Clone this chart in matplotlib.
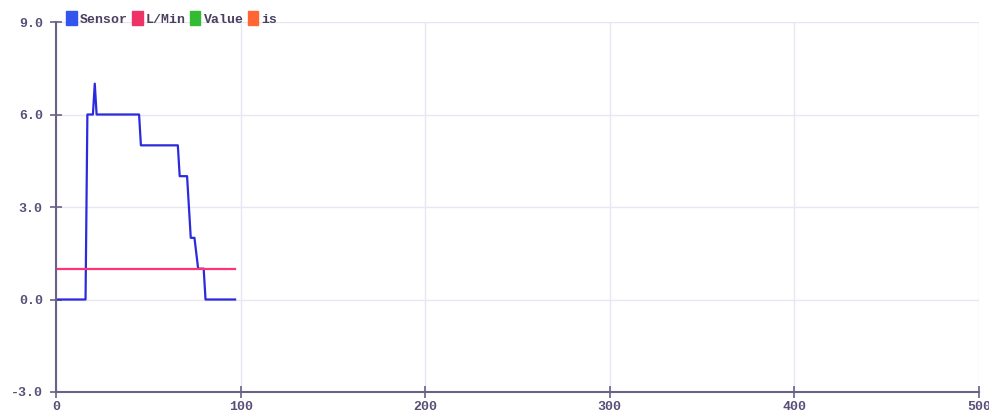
import matplotlib
matplotlib.use('Agg')
import matplotlib.pyplot as plt
from matplotlib.patches import Patch

# Sensor readings, one sample per step
sensor = [0]*17 + [6, 6, 6, 6, 7] + [6]*24 + [5]*21 + [4]*5 + [3, 2, 2, 2, 1.5] + [1]*4 + [0]*17
steps = list(range(len(sensor)))
limit = [1]*len(sensor)   # L/Min

legend_names = ['Sensor', 'L/Min', 'Value', 'is']
legend_colors = ['#3355ee', '#ee3366', '#33bb33', '#ff6633']

x_ticks = [0, 100, 200, 300, 400, 500]
y_ticks = [-3.0, 0.0, 3.0, 6.0, 9.0]

axis_col = '#6a6088'
text_col = '#5a4f78'
grid_col = '#e8e6f2'
font = {'family': 'Liberation Mono', 'weight': 'bold', 'size': 9.5}

fig = plt.figure(figsize=(9.89, 4.19), dpi=100)
ax = fig.add_axes([56/989, 27/419, 923/989, 370/419])

ax.plot(steps, sensor, color='#2b2bdd', lw=1.6)
ax.plot(steps, limit, color='#ff3377', lw=1.6)

ax.set_xlim(0, 500)
ax.set_ylim(-3, 9)
ax.set_xticks(x_ticks)
ax.set_yticks(y_ticks)
ax.set_xticklabels([str(t) for t in x_ticks], fontdict=font, color=text_col)
ax.set_yticklabels(['%.1f' % t for t in y_ticks], fontdict=font, color=text_col)
ax.tick_params(direction='inout', length=9, width=1.2, color=axis_col)
ax.tick_params(axis='y', pad=5)
ax.tick_params(axis='x', pad=2)
ax.grid(True, color=grid_col, lw=1)
ax.set_axisbelow(True)
for s in ['top', 'right']:
    ax.spines[s].set_visible(False)
for s in ['left', 'bottom']:
    ax.spines[s].set_color(axis_col)
    ax.spines[s].set_linewidth(1.5)

handles = [Patch(facecolor=c, edgecolor=c) for c in legend_colors]
leg = ax.legend(handles, legend_names, ncol=4, loc='lower left',
                bbox_to_anchor=(0.011, 0.99), frameon=False,
                handlelength=0.8, handleheight=1.3, handletextpad=0.25,
                columnspacing=0.3, borderaxespad=0, borderpad=0,
                prop=font)
for t in leg.get_texts():
    t.set_color('#4a3f5e')

fig.savefig('out.png', dpi=100)
